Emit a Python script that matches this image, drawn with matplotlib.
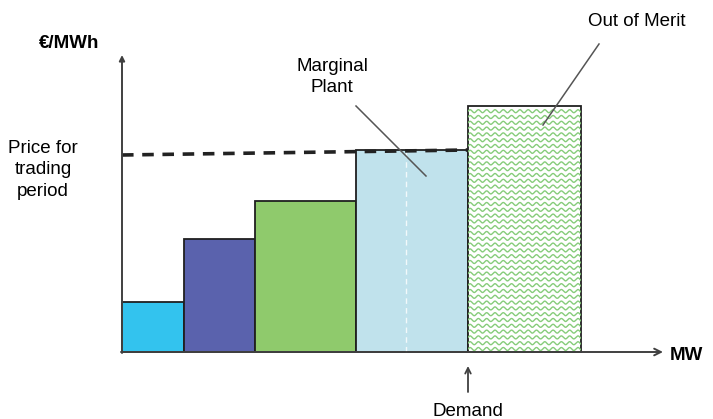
import matplotlib.pyplot as plt
import numpy as np

# merit order stack: capacity (MW) and offer price (EUR/MWh), cheapest first
capacity = [62, 71, 101, 112, 113]
price = [50, 113, 151, 202, 246]
colors = ['#33C3EE', '#5A62AD', '#8FCA6C', '#C0E2EC', 'white']
demand = sum(capacity[:4])
clearing_price = (197, 202)

plt.rcParams['font.family'] = ['Liberation Sans', 'DejaVu Sans']
FS = 13.5

fig = plt.figure(figsize=(7.13, 4.19), dpi=100)
ax = fig.add_axes([0, 0, 1, 1])
ax.set_xlim(-122, 591)
ax.set_ylim(-67, 352)
ax.axis('off')

left = np.concatenate([[0], np.cumsum(capacity)[:-1]])
bars = ax.bar(left, price, width=capacity, align='edge', color=colors,
              edgecolor='#202020', linewidth=1.3, zorder=2)

# wavy fill for the out-of-merit plant
oom = bars[-1]
x0, w, h = left[-1], capacity[-1], price[-1]
xs = np.linspace(x0, x0 + w, 400)
for yb in np.arange(3, h, 5.8):
    ln, = ax.plot(xs, yb + 1.5 * np.sin(2 * np.pi * (xs - x0) / 8.3),
                  color='#86CC7A', lw=1.0, zorder=3)
    ln.set_clip_path(oom)

# faint split inside the marginal plant
ax.plot([left[3] + 50, left[3] + 50], [0, price[3]], color='white',
        lw=1.0, ls=(0, (4, 3)), alpha=0.8, zorder=3)

# clearing price line
ax.plot([0, demand], clearing_price, color='#222222', lw=2.6,
        ls=(0, (3.2, 2.4)), zorder=4)

# axes with arrows
ax.annotate('', xy=(0, 297), xytext=(0, -1),
            arrowprops=dict(arrowstyle='-|>', color='#404040', lw=1.4,
                            mutation_scale=8, shrinkA=0, shrinkB=0), zorder=5)
ax.annotate('', xy=(541, 0), xytext=(-1, 0),
            arrowprops=dict(arrowstyle='->', color='#404040', lw=1.4,
                            mutation_scale=12, shrinkA=0, shrinkB=0), zorder=5)

# demand marker
ax.annotate('', xy=(demand, -14), xytext=(demand, -40),
            arrowprops=dict(arrowstyle='->', color='#404040', lw=1.3,
                            mutation_scale=10, shrinkA=0, shrinkB=0))

# leader lines
ax.plot([234, 304], [246, 176], color='#555555', lw=1.1, zorder=5)
ax.plot([477, 421], [308, 227], color='#555555', lw=1.1, zorder=5)

ax.text(-53, 309, '€/MWh', fontsize=FS, fontweight='bold', ha='center', va='center')
ax.text(-79, 182, 'Price for\ntrading\nperiod', fontsize=FS, ha='center',
        va='center', linespacing=1.32)
ax.text(210, 275, 'Marginal\nPlant', fontsize=FS, ha='center', va='center',
        linespacing=1.32)
ax.text(515, 330, 'Out of Merit', fontsize=FS, ha='center', va='center')
ax.text(564, -3, 'MW', fontsize=FS, fontweight='bold', ha='center', va='center')
ax.text(demand, -59, 'Demand', fontsize=FS, ha='center', va='center')

fig.savefig('out.png', dpi=100)
